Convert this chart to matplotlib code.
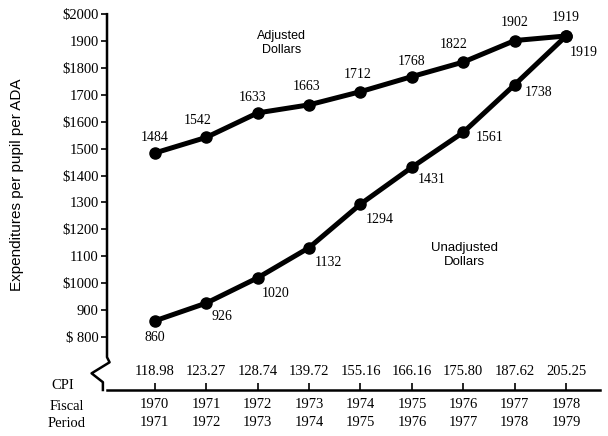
import matplotlib.pyplot as plt

plt.rcParams['font.family'] = ['Liberation Serif', 'DejaVu Serif']

years = [1970, 1971, 1972, 1973, 1974, 1975, 1976, 1977, 1978]
fiscal_labels = ["1970\n1971", "1971\n1972", "1972\n1973", "1973\n1974", "1974\n1975",
                 "1975\n1976", "1976\n1977", "1977\n1978", "1978\n1979"]
cpi = ["118.98", "123.27", "128.74", "139.72", "155.16", "166.16", "175.80", "187.62", "205.25"]
adjusted = [1484, 1542, 1633, 1663, 1712, 1768, 1822, 1902, 1919]
unadjusted = [860, 926, 1020, 1132, 1294, 1431, 1561, 1738, 1919]
ytick_vals = [800, 900, 1000, 1100, 1200, 1300, 1400, 1500, 1600, 1700, 1800, 1900, 2000]
ytick_labels = ["$ 800", "900", "$1000", "1100", "$1200", "1300", "$1400", "1500",
                "$1600", "1700", "$1800", "1900", "$2000"]

# offsets of value labels (points)
adj_off = [(0, 11), (-6, 12), (-4, 11), (-2, 13), (-2, 12), (0, 11), (-7, 13), (0, 13), (0, 13)]
unadj_off = [(0, -12), (11, -10), (13, -11), (14, -11), (14, -11), (14, -9), (19, -4), (17, -6), (13, -12)]

fig = plt.figure(figsize=(6.08, 4.36), dpi=100)
ax = fig.add_axes([0.176, 0.1055, 0.811, 0.862])
ax.set_xlim(1969.07, 1978.66)
ax.set_ylim(603, 2000)

ax.plot(years, adjusted, color='black', lw=3.6, marker='o', ms=8, zorder=3)
ax.plot(years, unadjusted, color='black', lw=3.6, marker='o', ms=8, zorder=3)

for x, v, o in zip(years, adjusted, adj_off):
    ax.annotate(str(v), (x, v), xytext=o, textcoords='offset points',
                ha='center', va='center', fontsize=10)
for x, v, o in zip(years, unadjusted, unadj_off):
    ax.annotate(str(v), (x, v), xytext=o, textcoords='offset points',
                ha='center', va='center', fontsize=10)

sans = ['Liberation Sans', 'DejaVu Sans']
ax.text(1972.47, 1892, "Adjusted\nDollars", ha='center', va='center', fontsize=9,
        linespacing=1.25, family=sans)
ax.text(1976.03, 1104, "Unadjusted\nDollars", ha='center', va='center', fontsize=9.5,
        linespacing=1.25, family=sans)

# spines
for s in ['top', 'right', 'left']:
    ax.spines[s].set_visible(False)
ax.spines['bottom'].set_linewidth(1.8)

# broken left axis with zigzag
bx = [1969.07, 1969.07, 1969.12, 1968.77, 1968.99, 1968.99]
by = [2000, 725, 706, 665, 632, 603]
ax.plot(bx, by, color='black', lw=1.8, clip_on=False)

ax.set_yticks(ytick_vals)
ax.set_yticklabels(ytick_labels, fontsize=10.5)
ax.tick_params(axis='y', direction='out', length=4, width=1.2, pad=2)
ax.set_xticks(years)
ax.set_xticklabels(fiscal_labels, fontsize=10.5, linespacing=1.45)
ax.tick_params(axis='x', direction='in', length=5, width=1.2, pad=6)

for x, c in zip(years, cpi):
    ax.text(x, 670, c, ha='center', va='center', fontsize=10.5)

ax.set_ylabel("Expenditures per pupil per ADA", fontsize=11, family=sans)
ax.yaxis.set_label_coords(-0.168, 0.545)

fig.text(63 / 608, 1 - 385 / 436, "CPI", ha='center', va='center', fontsize=10.5)
fig.text(67 / 608, 1 - 406 / 436, "Fiscal", ha='center', va='center', fontsize=10.5)
fig.text(67 / 608, 1 - 423 / 436, "Period", ha='center', va='center', fontsize=10.5)

fig.savefig("out.png", dpi=100)
